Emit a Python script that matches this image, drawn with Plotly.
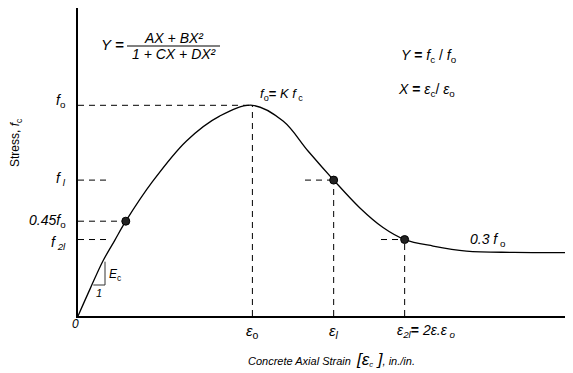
import plotly.graph_objects as go

# ---- data (normalised: X = eps/eps_o, Y = f/f_o) ----
curve_x = [0, 0.07, 0.143, 0.21, 0.274, 0.430, 0.622, 0.812, 1.0, 1.176, 1.319, 1.466,
           1.615, 1.749, 1.873, 2.036, 2.227, 2.5, 2.84]
curve_y = [0, 0.130, 0.261, 0.358, 0.45, 0.641, 0.831, 0.949, 1.0, 0.925, 0.783, 0.645,
           0.514, 0.420, 0.363, 0.332, 0.308, 0.302, 0.301]

eps_o, eps_l, eps_2l = 1.0, 1.466, 1.873
f_o, f_l, f_045, f_2l = 1.0, 0.645, 0.45, 0.363
x_045 = 0.274

point_x = [x_045, eps_l, eps_2l]
point_y = [f_045, f_l, f_2l]

# ---- layout in screen pixels (page has an 8px body offset) ----
W, H = 573, 373
OFF = 8
PL, PR, PT, PB = 78, 573, 8, 316          # plot area on screen
ML, MR, MT, MB = PL - OFF, (OFF + W) - PR, PT - OFF, (OFF + H) - PB
SX, SY = 174.4, 210.7
XMAX = (PR - PL) / SX
YMAX = (PB - PT) / SY


def dx(px):
    return (px - PL) / SX


def dy(py):
    return (PB - py) / SY


def pxp(px):
    return (px - PL) / (PR - PL)


def pyp(py):
    return (PB - py) / (PB - PT)


FONT = "Liberation Sans, Arial, sans-serif"
DASH = "6px,5px"

fig = go.Figure()


def dline(xs, ys):
    fig.add_trace(go.Scatter(x=xs, y=ys, mode="lines",
                             line=dict(color="black", width=1, dash=DASH),
                             hoverinfo="skip", showlegend=False))


dline([0, eps_o], [f_o, f_o])
dline([eps_o, eps_o], [0, f_o])
dline([0, x_045], [f_045, f_045])
dline([0, dx(106)], [f_l, f_l])
dline([dx(305), eps_l], [f_l, f_l])
dline([0, dx(106)], [f_2l, f_2l])
dline([dx(381), eps_2l], [f_2l, f_2l])
dline([eps_l, eps_l], [0, f_l])
dline([eps_2l, eps_2l], [0, f_2l])

# main curve
fig.add_trace(go.Scatter(x=curve_x, y=curve_y, mode="lines",
                         line=dict(color="black", width=1.3, shape="spline"),
                         hoverinfo="skip", showlegend=False))

# Ec triangle
fig.add_trace(go.Scatter(x=[dx(93.3), dx(105), dx(105)],
                         y=[dy(285), dy(285), dy(261.7)], mode="lines",
                         line=dict(color="#333", width=1),
                         hoverinfo="skip", showlegend=False))

# points
fig.add_trace(go.Scatter(x=point_x, y=point_y, mode="markers",
                         marker=dict(color="#222", size=8,
                                     line=dict(color="black", width=1)),
                         hoverinfo="skip", showlegend=False))

ann = []


def txt(px, py, text, size=14, xanchor="left", yanchor="middle", angle=0):
    ann.append(dict(x=pxp(px), y=pyp(py), xref="paper", yref="paper", text=text,
                    showarrow=False, xanchor=xanchor, yanchor=yanchor,
                    textangle=angle,
                    font=dict(family=FONT, size=size, color="black")))


# y labels
txt(68, 101, "<i>f</i><sub>o</sub>", 14, "right")
txt(68, 179, "<i>f</i><sub> <i>l</i></sub>", 14, "right")
txt(68, 221, "<i>0.45f</i><sub>o</sub>", 14, "right")
txt(68, 243, "<i>f</i><sub> <i>2l</i></sub>", 14, "right")
txt(75, 324, "<i>0</i>", 12, "center")

# x labels
txt(252, 331, "<i>ε</i><sub>o</sub>", 15, "center")
txt(334, 331, "<i>ε</i><sub><i>l</i></sub>", 15, "center")
txt(395, 331, "<i>ε</i><sub><i>2l</i></sub><b>=</b> <i>2ε.ε</i><sub><i> o</i></sub>", 14, "left")

# axis titles
txt(331, 359, "<i>Concrete Axial Strain  </i><span style='font-size:17px'><i>[ε</i></span>"
    "<sub><i>c</i></sub><span style='font-size:17px'><i> ]</i></span><i>, in./in.</i>",
    11, "center")
txt(16, 143, "Stress, <i>f</i><sub>c</sub>", 12, "center", angle=-90)

# formula
txt(112, 45, "<i>Y</i> <b>=</b>", 15, "center")
txt(174, 38, "<i>AX + BX²</i>", 14, "center")
txt(174, 54, "<i>1 + CX + DX²</i>", 14, "center")
txt(399, 56, "<i>Y</i> <b>=</b> <i>f</i><sub>c</sub> / <i>f</i><sub>o</sub>", 14, "left")
txt(396, 90, "<i>X</i> <b>=</b> <i>ε</i><sub>c</sub>/ <i>ε</i><sub>o</sub>", 14, "left")

# peak and plateau labels
txt(258, 95, "<i>f</i><sub>o</sub><b>=</b> <i>K f</i><sub> c</sub>", 13, "left")
txt(468, 240, "<i>0.3 f</i><sub> o</sub>", 14, "left")

# Ec labels
txt(107, 275, "<i>E</i><sub>c</sub>", 12, "left")
txt(99, 293, "<i>1</i>", 11, "center")

fig.update_layout(
    width=W, height=H,
    margin=dict(l=ML, r=MR, t=MT, b=MB, pad=0),
    paper_bgcolor="white", plot_bgcolor="white",
    annotations=ann,
    shapes=[dict(type="line", xref="paper", yref="paper",
                 x0=pxp(127), x1=pxp(220), y0=pyp(46), y1=pyp(46),
                 line=dict(color="black", width=1))],
    xaxis=dict(range=[0, XMAX], showgrid=False, zeroline=False,
               showticklabels=False, ticks="", showline=True,
               linecolor="black", linewidth=1.5),
    yaxis=dict(range=[0, YMAX], showgrid=False, zeroline=False,
               showticklabels=False, ticks="", showline=True,
               linecolor="black", linewidth=1.5),
)

fig.write_html("out.html")
